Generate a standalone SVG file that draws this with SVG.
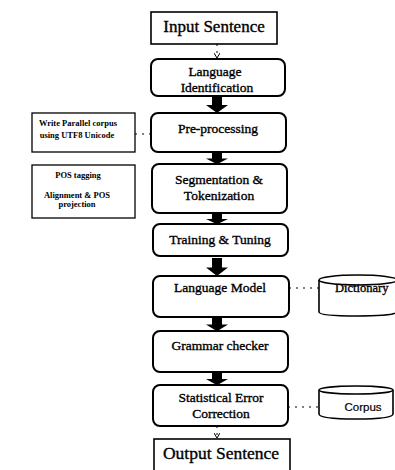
<svg xmlns="http://www.w3.org/2000/svg" width="395" height="470" viewBox="0 0 395 470">
<style>
.box{fill:#fff;stroke:#000;stroke-width:2}
.sq{fill:#fff;stroke:#000;stroke-width:1.6}
.side{fill:#fff;stroke:#000;stroke-width:1.3}
.t{font-family:"Liberation Serif",serif;fill:#000;stroke:#000;stroke-width:0.35;text-anchor:middle}
.m{font-size:13.5px}
.l{font-size:17px}
.s{font-size:8.5px;font-weight:bold;stroke-width:0}
.dash{fill:none;stroke:#000;stroke-width:1;stroke-dasharray:2 5}
.thick{fill:#000}
</style>
<defs>
<marker id="ah" markerWidth="6" markerHeight="6" refX="5" refY="3" orient="auto" markerUnits="userSpaceOnUse">
<path d="M0,0 L5,3 L0,6" fill="none" stroke="#000" stroke-width="1"/>
</marker>
<path id="big" d="M-5,0 H5 V9 H11 L0,17 L-11,9 H-5 Z"/>
</defs>
<g id="connectors">
<line class="dash" x1="217" y1="44" x2="217" y2="58" stroke-dasharray="2 2" marker-end="url(#ah)"/>
<use href="#big" class="thick" x="217" y="96"/>
<use href="#big" class="thick" transform="translate(217,152) scale(1,0.72)"/>
<use href="#big" class="thick" transform="translate(217,213) scale(1,0.66)"/>
<use href="#big" class="thick" transform="translate(217,258) scale(1,1.06)"/>
<use href="#big" class="thick" transform="translate(217,317) scale(1,0.84)"/>
<use href="#big" class="thick" transform="translate(217,372) scale(1,0.78)"/>
<line class="dash" x1="217" y1="426" x2="217" y2="438" stroke-dasharray="2 2" marker-end="url(#ah)"/>
<line class="dash" x1="135" y1="134" x2="151" y2="134" stroke-dasharray="2 2"/>
<line class="dash" x1="282" y1="288" x2="328" y2="288" marker-end="url(#ah)"/>
<line class="dash" x1="325" y1="407" x2="283" y2="407" marker-end="url(#ah)"/>
</g>
<g id="input">
<rect class="sq" x="151" y="12" width="126" height="32"/>
<text class="t l" x="214" y="32">Input Sentence</text>
</g>
<g id="langid">
<rect class="box" x="151" y="59" width="134" height="37" rx="7"/>
<text class="t m" x="215" y="76">Language</text>
<text class="t m" x="217" y="92">Identification</text>
</g>
<g id="preproc">
<rect class="box" x="151" y="113" width="135" height="39" rx="7"/>
<text class="t m" x="218" y="133">Pre-processing</text>
</g>
<g id="seg">
<rect class="box" x="152" y="164" width="135" height="49" rx="7"/>
<text class="t m" x="219" y="184">Segmentation &amp;</text>
<text class="t m" x="219" y="200">Tokenization</text>
</g>
<g id="train">
<rect class="box" x="153" y="224" width="135" height="32" rx="7"/>
<text class="t m" x="220" y="244">Training &amp; Tuning</text>
</g>
<g id="lm">
<rect class="box" x="153" y="276" width="136" height="41" rx="7"/>
<text class="t m" x="220" y="292">Language Model</text>
</g>
<g id="grammar">
<rect class="box" x="153" y="331" width="135" height="41" rx="7"/>
<text class="t m" x="220" y="350">Grammar checker</text>
</g>
<g id="sec">
<rect class="box" x="153" y="385" width="135" height="41" rx="7"/>
<text class="t m" x="221" y="402">Statistical Error</text>
<text class="t m" x="221" y="418">Correction</text>
</g>
<g id="output">
<rect class="sq" x="154" y="439" width="136" height="34"/>
<text class="t l" x="221" y="459" style="font-size:17.5px">Output Sentence</text>
</g>
<g id="write">
<rect class="side" x="32" y="113" width="103" height="39"/>
<text class="t s" x="78" y="126">Write Parallel corpus</text>
<text class="t s" x="77" y="138">using UTF8 Unicode</text>
</g>
<g id="pos">
<rect class="side" x="32" y="165" width="103" height="53"/>
<text class="t s" x="78" y="178">POS tagging</text>
<text class="t s" x="77" y="198">Alignment &amp; POS</text>
<text class="t s" x="77" y="207">projection</text>
</g>
<g id="dictionary">
<path d="M319,280 V312 Q319,316 357,316 Q395,316 397,312 V280" fill="#fff" stroke="#000" stroke-width="1.6"/>
<ellipse cx="358" cy="280" rx="39" ry="5" fill="#fff" stroke="#000" stroke-width="1.6"/>
<text class="t" x="335" y="292" style="font-size:12.5px;text-anchor:start">Dictionary</text>
</g>
<g id="corpus">
<path d="M319,390 V414 Q319,419 356,419 Q393,419 393,414 V390" fill="#fff" stroke="#000" stroke-width="1.6"/>
<ellipse cx="356" cy="390" rx="37" ry="4" fill="#fff" stroke="#000" stroke-width="1.6"/>
<text class="t" x="363" y="411" style="font-size:11.5px;font-family:'Liberation Sans',sans-serif;stroke-width:0.2">Corpus</text>
</g>
</svg>
